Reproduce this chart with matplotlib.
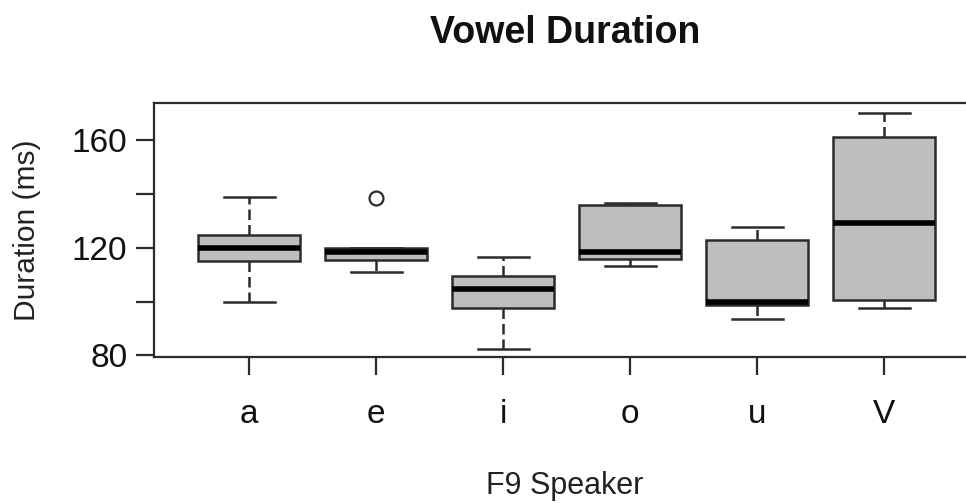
import matplotlib.pyplot as plt

# summary statistics per vowel (ms)
vowels = ["a", "e", "i", "o", "u", "V"]
whisker_low = [99.9, 111.1, 82.3, 113.2, 93.5, 97.5]
q1 = [115.2, 115.5, 97.7, 115.8, 98.6, 100.6]
medians = [120.0, 118.6, 104.7, 118.5, 99.7, 129.1]
q3 = [124.8, 120.1, 109.5, 135.9, 122.9, 161.1]
whisker_high = [139.0, 120.1, 116.5, 136.7, 127.6, 170.3]
outliers = [[], [138.4], [], [], [], []]

plt.rcParams['font.family'] = ['Liberation Sans', 'DejaVu Sans']

stats = []
for i in range(len(vowels)):
    stats.append({'label': vowels[i], 'whislo': whisker_low[i], 'q1': q1[i],
                  'med': medians[i], 'q3': q3[i], 'whishi': whisker_high[i],
                  'fliers': outliers[i]})

edge = '#2b2b2b'
fig = plt.figure(figsize=(9.66, 5.03), dpi=100)
ax = fig.add_axes([154.3 / 966, 146 / 503, 821.4 / 966, 254.2 / 503])

ax.bxp(stats, positions=range(1, len(vowels) + 1), widths=0.8, patch_artist=True,
       boxprops=dict(facecolor='#bebebe', edgecolor=edge, linewidth=1.8),
       medianprops=dict(color='black', linewidth=4, solid_capstyle='butt'),
       whiskerprops=dict(color=edge, linewidth=1.8, linestyle=(0, (4.2, 2.0))),
       capprops=dict(color=edge, linewidth=1.8),
       flierprops=dict(marker='o', markerfacecolor='white', markeredgecolor=edge,
                       markersize=10, markeredgewidth=1.6))

ax.set_xlim(0.253, 6.72)
ax.set_ylim(79.4, 174.0)
ax.set_yticks([80, 100, 120, 140, 160], ['80', '', '120', '', '160'])

for side in ['left', 'bottom', 'top', 'right']:
    ax.spines[side].set_linewidth(1.6)
    ax.spines[side].set_color(edge)

ax.tick_params(length=13, width=1.6, color=edge, labelsize=24, labelcolor='#111111')
ax.tick_params(axis='y', pad=6.5)
ax.tick_params(axis='x', pad=17.5)

fig.text(565 / 966, 1 - 43.3 / 503, 'Vowel Duration', ha='center', va='baseline',
         fontsize=27, fontweight='bold', color='#111111')
fig.text(564.5 / 966, 1 - 494.3 / 503, 'F9 Speaker', ha='center', va='baseline',
         fontsize=22, color='#222222')
fig.text(27 / 966, 1 - 230 / 503, 'Duration (ms)', rotation=90, ha='center',
         va='center', fontsize=21.5, color='#222222')

fig.savefig('out.png', dpi=100)
